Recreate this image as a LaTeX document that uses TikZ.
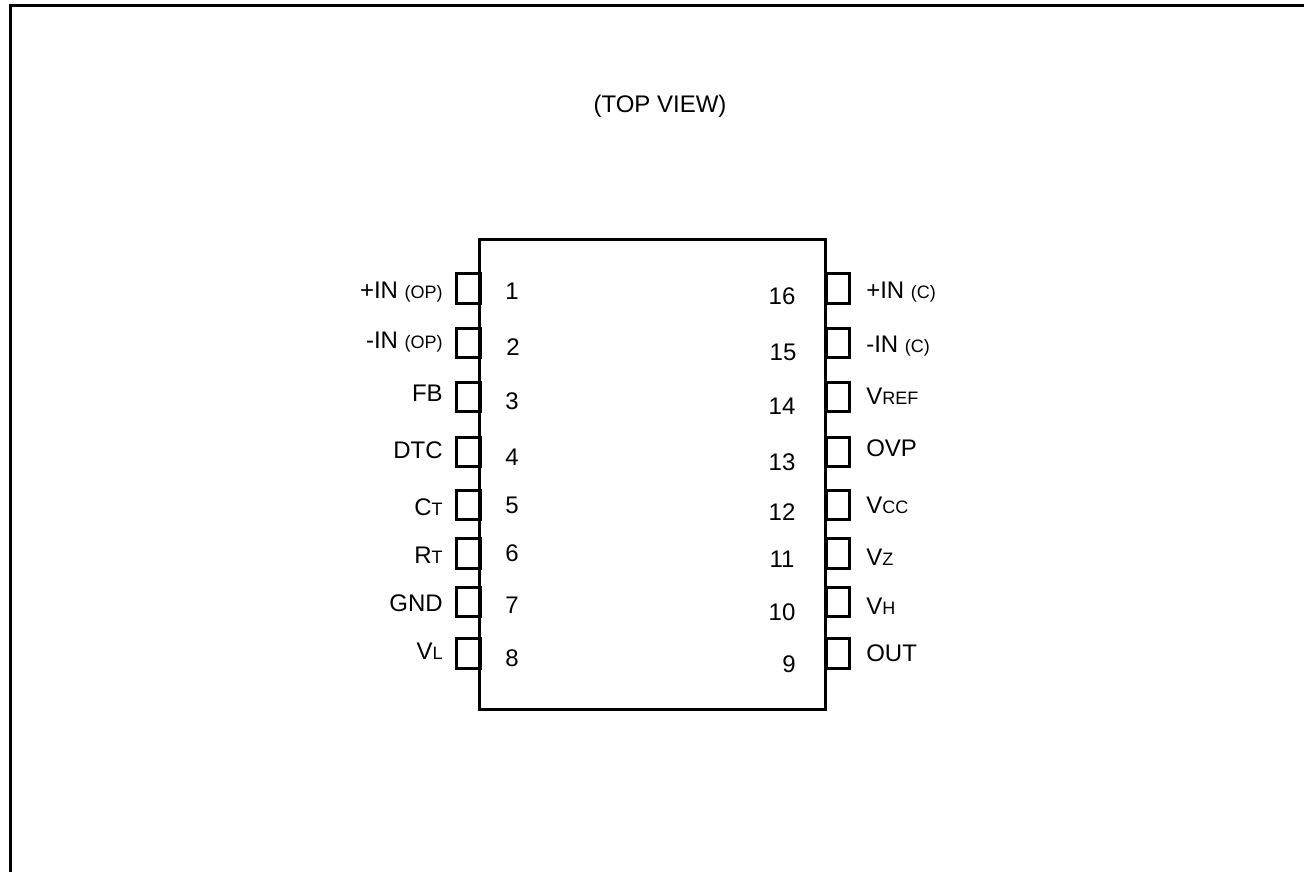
\documentclass[tikz,border=0pt]{standalone}
\usepackage{fontspec}
\setmainfont{Liberation Sans}
\usetikzlibrary{positioning}
\newcommand{\smalltxt}[1]{{\fontsize{13.5}{15}\selectfont #1}}
\tikzset{
    chipbody/.style={draw, line width=2.25pt, minimum width=259.3pt, minimum height=352.3pt},
    pad/.style={draw, line width=2.25pt, minimum width=17.5pt, minimum height=22pt},
    leftlabel/.style={anchor=base east, inner sep=0pt, font=\fontsize{18}{20}\selectfont},
    rightlabel/.style={anchor=base west, inner sep=0pt, font=\fontsize{18}{20}\selectfont},
    pinnum/.style={anchor=base, inner sep=0pt, font=\fontsize{18}{20}\selectfont}
}
\begin{document}
\begin{tikzpicture}[x=0.75pt, y=-0.75pt]
    \useasboundingbox (0,0) rectangle (1304,872);
    \draw[line width=2.25pt] (10.5,872) -- (10.5,5.5) -- (1304,5.5);

    \node[pinnum] (title) at (660,112) {(TOP VIEW)};

    % left row
    \node[pad] (p1) at (468.4,288.5) {};
    \node[pad] (p2) at (468.4,343) {};
    \node[pad] (p3) at (468.4,397) {};
    \node[pad] (p4) at (468.4,452) {};
    \node[pad] (p5) at (468.4,505) {};
    \node[pad] (p6) at (468.4,553.5) {};
    \node[pad] (p7) at (468.4,602) {};
    \node[pad] (p8) at (468.4,653.5) {};

    % right row
    \node[pad] (p16) at (837.7,288.5) {};
    \node[pad] (p15) at (837.7,343) {};
    \node[pad] (p14) at (837.7,397) {};
    \node[pad] (p13) at (837.7,452) {};
    \node[pad] (p12) at (837.7,505) {};
    \node[pad] (p11) at (837.7,553.5) {};
    \node[pad] (p10) at (837.7,602) {};
    \node[pad] (p9) at (837.7,653.5) {};

    \node[chipbody] (chip) at (652.65,474.65) {};

    \node[pinnum] (n1) at (512,299) {1};
    \node[pinnum] (n2) at (513,355) {2};
    \node[pinnum] (n3) at (512,409) {3};
    \node[pinnum] (n4) at (512,465) {4};
    \node[pinnum] (n5) at (512,513) {5};
    \node[pinnum] (n6) at (512,561) {6};
    \node[pinnum] (n7) at (512,613) {7};
    \node[pinnum] (n8) at (512,666) {8};

    \node[pinnum] (n16) at (782,304) {16};
    \node[pinnum] (n15) at (783,360) {15};
    \node[pinnum] (n14) at (782,414) {14};
    \node[pinnum] (n13) at (782,470) {13};
    \node[pinnum] (n12) at (782,520) {12};
    \node[pinnum] (n11) at (782,567) {11};
    \node[pinnum] (n10) at (782,620) {10};
    \node[pinnum] (n9) at (789,672) {9};

    \node[leftlabel] (l1) at (443,298) {+IN \smalltxt{(OP)}};
    \node[leftlabel] (l2) at (443,348) {-IN \smalltxt{(OP)}};
    \node[leftlabel] (l3) at (443,401) {FB};
    \node[leftlabel] (l4) at (443,458) {DTC};
    \node[leftlabel] (l5) at (443,515) {C\smalltxt{T}};
    \node[leftlabel] (l6) at (443,563) {R\smalltxt{T}};
    \node[leftlabel] (l7) at (443,611) {GND};
    \node[leftlabel] (l8) at (443,659) {V\smalltxt{L}};

    \node[rightlabel] (l16) at (866,298) {+IN \smalltxt{(C)}};
    \node[rightlabel] (l15) at (866,352) {-IN \smalltxt{(C)}};
    \node[rightlabel] (l14) at (866,404) {V\smalltxt{REF}};
    \node[rightlabel] (l13) at (866,456) {OVP};
    \node[rightlabel] (l12) at (866,513) {V\smalltxt{CC}};
    \node[rightlabel] (l11) at (866,565) {V\smalltxt{Z}};
    \node[rightlabel] (l10) at (866,614) {V\smalltxt{H}};
    \node[rightlabel] (l9) at (866,661) {OUT};
\end{tikzpicture}
\end{document}
